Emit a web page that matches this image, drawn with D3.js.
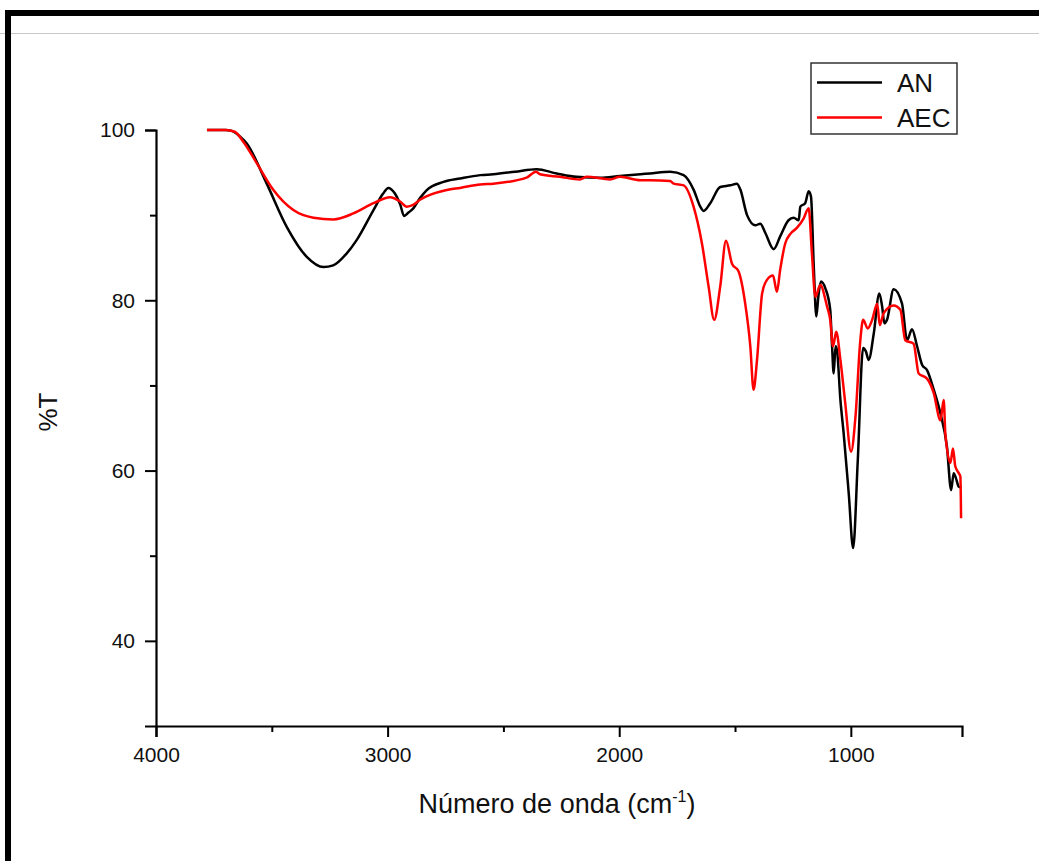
<!DOCTYPE html>
<html>
<head>
<meta charset="utf-8">
<script src="https://cdn.jsdelivr.net/npm/d3@7/dist/d3.min.js"></script>
<style>
  html, body { margin: 0; padding: 0; background: #fff; }
  svg { display: block; font-family: "Liberation Sans", Arial, sans-serif; }
</style>
</head>
<body>
<svg id="chart" width="1039" height="861"></svg>
<script>
// FTIR spectra: wavenumber (cm-1) and transmittance (%T)
const seriesNames = ["AN", "AEC"];
const seriesColors = ["#000000", "#ff0000"];

const anSpectrum = [
  [3780,100],[3700,100],[3673,99.9],[3640,99.3],[3608,98.4],[3522,93.7],[3435,88.6],
  [3349,85.1],[3277,83.9],[3235,84.1],[3180,85.4],[3133,87.1],[3061,90.6],
  [3020,92.5],[2997,93.2],[2970,92.6],[2945,91.2],[2929,89.9],[2910,90.3],[2889,90.8],
  [2860,92.0],[2831,92.95],[2759,93.9],[2687,94.3],[2600,94.7],[2544,94.8],[2450,95.1],
  [2357,95.4],[2270,94.9],[2184,94.5],[2083,94.4],[1997,94.6],[1909,94.8],[1867,94.9],
  [1780,95.1],[1722,94.7],[1679,93.0],[1650,91.0],[1636,90.5],[1607,91.4],[1564,93.3],
  [1520,93.5],[1492,93.7],[1477,93.0],[1448,90.0],[1412,88.8],[1391,89.0],[1369,87.9],
  [1333,86.0],[1305,87.5],[1269,89.4],[1247,89.7],[1225,89.4],[1218,91.0],[1197,91.4],
  [1182,92.8],[1172,92.2],[1160,84.0],[1149,78.1],[1140,80.5],[1129,82.2],[1110,81.4],
  [1089,78.9],[1081,74.6],[1074,71.4],[1066,74.6],[1060,74.2],[1045,68.3],[1031,64.4],
  [1009,57.3],[990,50.9],[970,61.2],[947,74.4],[935,74.0],[923,73.0],[901,76.1],
  [877,80.8],[865,79.3],[855,77.3],[844,77.7],[815,81.3],[779,79.6],[757,75.3],
  [736,76.6],[714,74.6],[692,72.4],[671,71.8],[642,69.5],[613,66.7],[585,62.8],
  [567,57.7],[556,59.7],[545,59.0],[534,58.1],[522,58.0]
];

const aecSpectrum = [
  [3780,100],[3700,100],[3660,99.8],[3620,98.5],[3565,96.1],[3493,92.95],[3407,90.6],
  [3320,89.7],[3234,89.5],[3148,90.2],[3061,91.4],[2989,92.1],[2946,91.6],[2917,91.0],
  [2890,91.2],[2860,91.8],[2744,92.95],[2687,93.2],[2600,93.6],[2544,93.7],[2400,94.4],
  [2359,95.1],[2342,94.8],[2256,94.5],[2170,94.2],[2140,94.5],[2040,94.2],[1997,94.5],
  [1909,94.1],[1867,94.1],[1780,94.0],[1765,93.7],[1722,93.5],[1679,91.0],[1643,86.7],
  [1614,81.6],[1590,77.7],[1564,81.6],[1539,87.0],[1513,84.3],[1485,83.4],[1456,79.6],
  [1434,74.6],[1420,69.5],[1405,73.0],[1383,80.8],[1362,82.4],[1336,82.9],[1319,81.0],
  [1305,83.6],[1283,86.7],[1261,87.8],[1233,88.5],[1204,89.6],[1182,90.8],[1168,85.5],
  [1153,80.4],[1132,81.8],[1103,79.3],[1089,77.7],[1077,74.6],[1063,76.3],[1045,73.0],
  [1024,67.9],[999,62.2],[980,66.3],[959,75.3],[947,77.7],[927,76.7],[908,77.7],
  [886,79.6],[875,77.1],[858,78.5],[815,79.4],[786,78.9],[765,75.3],[729,74.9],
  [707,71.4],[671,70.8],[642,69.1],[613,65.9],[599,68.3],[592,64.4],[570,60.9],
  [559,62.6],[549,60.5],[534,59.7],[527,59.3],[524,54.4]
];

const xMajorTicks = [4000, 3000, 2000, 1000];
const xMinorTicks = [3500, 2500, 1500];
const yMajorTicks = [40, 60, 80, 100];
const yMinorTicks = [50, 70, 90];

const svg = d3.select("#chart");

// page frame
svg.append("line").attr("x1", 0).attr("x2", 1039).attr("y1", 33.5).attr("y2", 33.5)
  .attr("stroke", "#c8c8c8").attr("stroke-width", 1);
svg.append("path").attr("d", "M8,861 V13 H1039")
  .attr("fill", "none").attr("stroke", "#000").attr("stroke-width", 6);

const x = d3.scaleLinear().domain([4000, 520]).range([156, 962]);
const y = d3.scaleLinear().domain([30, 100]).range([726, 130]);

// axes
const xAxis = svg.append("g").attr("transform", "translate(0,726)")
  .call(d3.axisBottom(x).tickValues(xMajorTicks).tickSize(11).tickPadding(10).tickFormat(d3.format("d")));
const xMinor = svg.append("g").attr("transform", "translate(0,726)")
  .call(d3.axisBottom(x).tickValues(xMinorTicks).tickSize(6).tickFormat(""));
const yAxis = svg.append("g").attr("transform", "translate(156,0)")
  .call(d3.axisLeft(y).tickValues(yMajorTicks).tickSize(11).tickPadding(10).tickFormat(d3.format("d")));
const yMinor = svg.append("g").attr("transform", "translate(156,0)")
  .call(d3.axisLeft(y).tickValues(yMinorTicks).tickSize(6).tickFormat(""));

[xAxis, xMinor, yAxis, yMinor].forEach(g => {
  g.select(".domain").attr("stroke", "#000").attr("stroke-width", 2.2);
  g.selectAll(".tick line").attr("stroke", "#000").attr("stroke-width", 2);
  g.selectAll(".tick text").attr("fill", "#111").style("font-size", "21px")
    .style("font-family", "'Liberation Sans', Arial, sans-serif");
});
xMinor.select(".domain").remove();
yMinor.select(".domain").remove();

// axis titles
const xt = svg.append("text").attr("x", 557).attr("y", 813).attr("text-anchor", "middle")
  .style("font-size", "27px").attr("fill", "#111");
xt.append("tspan").text("Número de onda (cm");
xt.append("tspan").text("-1").attr("dy", -11).style("font-size", "16px");
xt.append("tspan").text(")").attr("dy", 11);

svg.append("text").attr("transform", "translate(57,412) rotate(-90)")
  .attr("text-anchor", "middle").style("font-size", "26px").attr("fill", "#111").text("%T");

// spectra
const line = d3.line().x(d => x(d[0])).y(d => y(d[1])).curve(d3.curveMonotoneX);
const allSeries = [anSpectrum, aecSpectrum];
// red drawn over black
allSeries.forEach((s, i) => {
  svg.append("path").datum(s).attr("d", line)
    .attr("fill", "none").attr("stroke", seriesColors[i])
    .attr("stroke-width", 2.5).attr("stroke-linejoin", "round");
});

// legend
const lg = svg.append("g");
lg.append("rect").attr("x", 811).attr("y", 63).attr("width", 146).attr("height", 71)
  .attr("fill", "#fff").attr("stroke", "#333").attr("stroke-width", 1.5);
seriesNames.forEach((name, i) => {
  const yy = 82.5 + i * 35;
  lg.append("line").attr("x1", 817).attr("x2", 882).attr("y1", yy).attr("y2", yy)
    .attr("stroke", seriesColors[i]).attr("stroke-width", 2.5);
  lg.append("text").attr("x", 897).attr("y", yy + 9.5).style("font-size", "26px")
    .attr("fill", "#111").text(name);
});
</script>
</body>
</html>
